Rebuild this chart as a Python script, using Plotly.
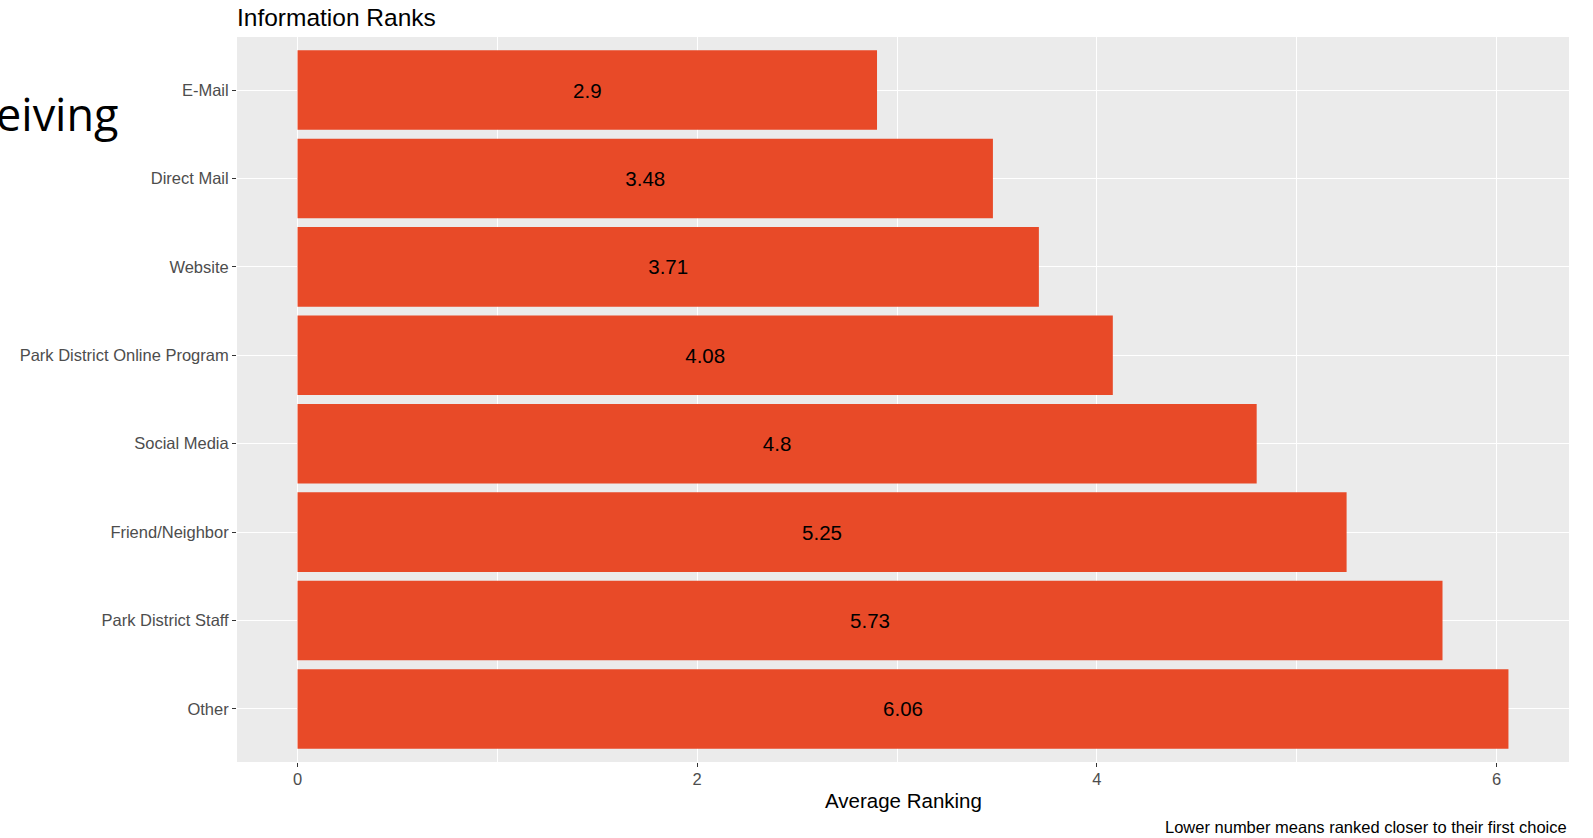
import plotly.graph_objects as go

# Average ranking per information channel (top to bottom)
channels = ["E-Mail", "Direct Mail", "Website", "Park District Online Program",
            "Social Media", "Friend/Neighbor", "Park District Staff", "Other"]
avg_rank = [2.9, 3.48, 3.71, 4.08, 4.8, 5.25, 5.73, 6.06]
x_ticks = [0, 2, 4, 6]

BAR = "#E84A28"
PANEL = "#EBEBEB"
FONT = "Liberation Sans, Arial, sans-serif"

fig = go.Figure()

fig.add_trace(go.Bar(
    x=avg_rank, y=channels,
    orientation="h",
    width=0.9,
    marker=dict(color=BAR, line=dict(width=0)),
    text=[f"{v:g}" for v in avg_rank],
    textposition="inside",
    insidetextanchor="middle",
    textfont=dict(family=FONT, size=20.5, color="black"),
    hoverinfo="x+y",
    showlegend=False,
))

fig.update_layout(
    width=1593, height=838,
    paper_bgcolor="white",
    plot_bgcolor=PANEL,
    margin=dict(l=237, r=24, t=37, b=76),
    font=dict(family=FONT),
    title=dict(
        text="Information Ranks",
        x=0, xref="paper", xanchor="left",
        y=1 - 17 / 838, yanchor="middle",
        font=dict(family=FONT, size=24.5, color="black"),
    ),
    bargap=0.1,
)

fig.update_xaxes(
    range=[-0.303, 6.363],
    tickvals=x_ticks,
    ticks="outside", ticklen=4, tickcolor="#333333", tickwidth=1,
    tickfont=dict(family=FONT, size=16.5, color="#4D4D4D"),
    ticklabelstandoff=-2,
    showgrid=True, gridcolor="white", gridwidth=1.4,
    minor=dict(dtick=1, tick0=0, showgrid=True, gridcolor="white", gridwidth=0.7),
    zeroline=False, showline=False,
)

fig.update_yaxes(
    categoryorder="array", categoryarray=channels,
    range=[7.6, -0.6],
    ticks="outside", ticklen=4, tickcolor="#333333", tickwidth=1,
    tickfont=dict(family=FONT, size=16.5, color="#4D4D4D"),
    showgrid=True, gridcolor="white", gridwidth=1.4,
    zeroline=False, showline=False,
)

# axis title and caption (panel is 725 px tall)
fig.add_annotation(
    text="Average Ranking", xref="paper", yref="paper",
    x=0.5, y=-38 / 725, xanchor="center", yanchor="middle",
    showarrow=False, font=dict(family=FONT, size=20.5, color="black"),
)
fig.add_annotation(
    text="Lower number means ranked closer to their first choice",
    xref="paper", yref="paper",
    x=1, y=-65 / 725, xanchor="right", yanchor="middle",
    showarrow=False, font=dict(family=FONT, size=16.5, color="black"),
)

# leftover slide text peeking in at the left edge
fig.add_annotation(
    text="eiving", xref="paper", yref="paper",
    x=(121 - 237) / 1332, y=(762 - 114) / 725,
    xanchor="right", yanchor="middle",
    showarrow=False, font=dict(family="Open Sans, sans-serif", size=45, color="black"),
)

# drop the default page margin so the figure sits at the window's corner
fig.write_html("out.html", config={"displayModeBar": False},
               post_script="document.body.style.margin='0';")
